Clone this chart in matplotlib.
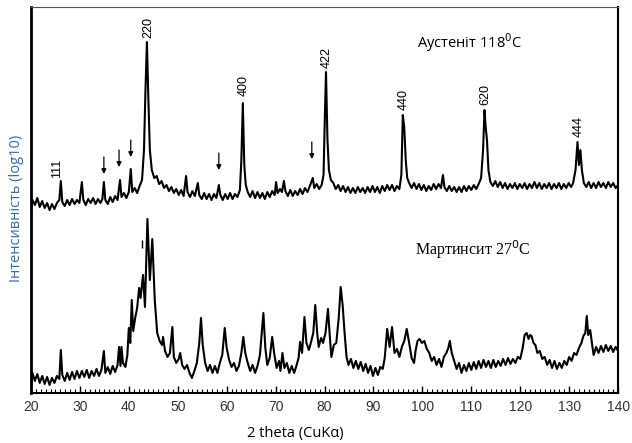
"""
XRD: аустеніт 118 C та мартенсит 27 C
Значення зчитано з рисунка (інтенсивність у відносних одиницях).
"""

import matplotlib
matplotlib.use('Agg')
import matplotlib.pyplot as plt

# ----------------------------------------------------------------
# Аустеніт 118 C (верхня крива)
# ----------------------------------------------------------------
aus_2theta = [
    20.0, 20.3, 20.8, 21.3, 21.8, 22.3, 22.8, 23.3, 23.8, 24.3, 24.8, 25.3, 25.8, 26.1, 26.4,
    26.9, 27.4, 27.9, 28.4, 28.9, 29.4, 29.9, 30.4, 30.7, 31.2, 31.7, 32.2, 32.7, 33.2, 33.7,
    34.2, 34.6, 34.9, 35.2, 35.7, 36.2, 36.7, 37.2, 37.7, 38.2, 38.5, 39.0, 39.5, 40.0, 40.4,
    40.7, 41.2, 41.7, 42.2, 42.7, 43.1, 43.4, 43.7, 44.0, 44.3, 44.7, 45.2, 45.7, 46.2, 46.7,
    47.2, 47.7, 48.2, 48.7, 49.2, 49.7, 50.2, 50.7, 51.2, 51.7, 52.0, 52.5, 53.0, 53.5, 54.1,
    54.4, 54.9, 55.4, 55.9, 56.4, 56.9, 57.4, 57.9, 58.4, 58.7, 59.2, 59.7, 60.2, 60.7, 61.2,
    61.7, 62.2, 62.7, 63.0, 63.3, 63.6, 63.9, 64.3, 64.8, 65.3, 65.8, 66.3, 66.8, 67.3, 67.8,
    68.3, 68.8, 69.3, 69.8, 70.1, 70.4, 70.9, 71.3, 71.7, 72.0, 72.5, 73.0, 73.5, 74.0, 74.5,
    75.0, 75.5, 76.0, 76.5, 77.0, 77.6, 77.9, 78.4, 78.9, 79.4, 79.8, 80.0, 80.3, 80.6, 80.9,
    81.3, 81.8, 82.3, 82.8, 83.3, 83.8, 84.3, 84.8, 85.3, 85.8, 86.3, 86.8, 87.3, 87.8, 88.3,
    88.8, 89.3, 89.8, 90.3, 90.8, 91.3, 91.8, 92.3, 92.8, 93.3, 93.8, 94.3, 94.8, 95.3, 95.7,
    96.0, 96.3, 96.6, 96.9, 97.3, 97.8, 98.3, 98.8, 99.3, 99.8, 100.3, 100.8, 101.3, 101.8, 102.3,
    102.8, 103.3, 103.8, 104.2, 104.5, 105.0, 105.5, 106.0, 106.5, 107.0, 107.5, 108.0, 108.5, 109.0,
    109.5, 110.0, 110.5, 111.0, 111.5, 112.0, 112.4, 112.7, 112.9, 113.2, 113.5, 113.9, 114.4, 114.9,
    115.4, 115.9, 116.4, 116.9, 117.4, 117.9, 118.4, 118.9, 119.4, 119.9, 120.4, 120.9, 121.4, 121.9,
    122.4, 122.9, 123.4, 123.9, 124.4, 124.9, 125.4, 125.9, 126.4, 126.9, 127.4, 127.9, 128.4, 128.9,
    129.4, 129.9, 130.4, 130.8, 131.3, 131.7, 132.0, 132.3, 132.6, 133.0, 133.5, 134.0, 134.5, 135.0,
    135.5, 136.0, 136.5, 137.0, 137.5, 138.0, 138.5, 139.0, 139.5, 140.0,
]
aus_int = [
    180, 193, 188, 195, 186, 192, 185, 190, 183, 189, 184, 190, 193, 212, 191,
    187, 193, 188, 194, 189, 193, 190, 211, 193, 188, 194, 190, 195, 189, 194,
    190, 194, 211, 193, 189, 196, 191, 197, 193, 213, 196, 200, 195, 201, 224,
    201, 205, 200, 207, 213, 243, 303, 351, 293, 243, 223, 215, 217, 209, 212,
    205, 208, 202, 206, 200, 204, 198, 203, 197, 217, 201, 196, 202, 197, 210,
    198, 194, 200, 194, 199, 193, 199, 195, 208, 198, 193, 199, 194, 200, 194,
    199, 196, 203, 233, 290, 228, 208, 201, 196, 202, 195, 201, 195, 200, 194,
    201, 196, 202, 198, 211, 200, 204, 201, 212, 202, 197, 203, 197, 202, 198,
    204, 199, 205, 201, 207, 215, 205, 209, 204, 208, 218, 263, 321, 253, 223,
    213, 210, 204, 208, 202, 207, 201, 206, 200, 205, 200, 206, 201, 205, 200,
    206, 201, 207, 201, 206, 200, 207, 202, 208, 203, 208, 202, 207, 204, 218,
    278, 265, 233, 215, 210, 205, 210, 204, 209, 203, 208, 202, 207, 203, 209,
    204, 209, 205, 218, 206, 202, 207, 202, 206, 201, 206, 201, 207, 202,
    207, 203, 208, 204, 209, 215, 243, 283, 268, 253, 223, 211, 207, 212,
    206, 211, 205, 210, 204, 209, 205, 210, 204, 209, 205, 210, 204, 209,
    205, 211, 205, 210, 204, 209, 205, 210, 204, 209, 205, 210, 204, 209,
    205, 210, 206, 210, 223, 251, 228, 243, 223, 210, 206, 211, 205, 210,
    205, 211, 206, 210, 205, 211, 206, 210, 205, 208,
]

# ----------------------------------------------------------------
# Мартенсит 27 C (нижня крива)
# ----------------------------------------------------------------
mar_2theta = [
    20.0, 20.3, 20.8, 21.3, 21.8, 22.3, 22.8, 23.3, 23.8, 24.3, 24.8, 25.3, 25.8, 26.1, 26.4,
    26.9, 27.4, 27.9, 28.4, 28.9, 29.4, 29.9, 30.4, 30.9, 31.4, 31.9, 32.4, 32.9, 33.4, 33.9,
    34.4, 34.9, 35.2, 35.7, 36.2, 36.7, 37.2, 37.7, 38.0, 38.3, 38.5, 38.8, 39.3, 39.7, 40.0,
    40.3, 40.6, 40.9, 41.3, 41.7, 42.1, 42.4, 42.9, 43.3, 43.8, 44.3, 44.8, 45.3, 45.8, 46.3,
    46.8, 47.0, 47.4, 47.9, 48.4, 48.9, 49.2, 49.7, 50.2, 50.5, 50.9, 51.4, 51.9, 52.4, 52.9,
    53.4, 53.9, 54.4, 54.75, 55.1, 55.6, 56.1, 56.6, 57.1, 57.6, 58.1, 58.6, 59.1, 59.6, 60.0,
    60.5, 61.0, 61.5, 62.0, 62.5, 63.0, 63.4, 63.8, 64.3, 64.8, 65.3, 65.8, 66.3, 66.8, 67.5,
    67.9, 68.3, 68.8, 69.3, 69.7, 70.2, 70.7, 71.0, 71.4, 71.8, 72.3, 72.8, 73.3, 73.8, 74.3,
    74.7, 75.0, 75.4, 75.9, 76.3, 76.8, 77.3, 77.7, 78.1, 78.5, 78.8, 79.3, 79.7, 80.2, 80.7,
    81.1, 81.4, 81.9, 82.4, 82.9, 83.3, 83.7, 84.1, 84.5, 84.9, 85.4, 85.9, 86.4, 86.9, 87.4,
    87.9, 88.4, 88.9, 89.4, 89.9, 90.4, 90.9, 91.4, 91.9, 92.3, 92.8, 93.3, 93.8, 94.3, 94.8,
    95.3, 95.8, 96.3, 96.8, 97.3, 97.8, 98.3, 98.6, 99.0, 99.4, 99.9, 100.4, 100.9, 101.4, 101.9,
    102.4, 102.9, 103.4, 103.9, 104.4, 104.9, 105.3, 105.6, 106.0, 106.5, 107.0, 107.5, 108.0, 108.5,
    109.0, 109.5, 110.0, 110.5, 111.0, 111.5, 112.0, 112.5, 113.0, 113.5, 114.0, 114.5, 115.0, 115.5,
    116.0, 116.5, 117.0, 117.5, 118.0, 118.5, 119.0, 119.5, 120.0, 120.5, 120.9, 121.3, 121.7, 122.0,
    122.3, 122.7, 123.1, 123.5, 124.0, 124.5, 125.0, 125.5, 126.0, 126.5, 127.0, 127.5, 128.0, 128.5,
    129.0, 129.5, 130.0, 130.5, 131.0, 131.5, 132.0, 132.5, 132.9, 133.3, 133.6, 133.9, 134.3, 134.7,
    135.0, 135.5, 136.0, 136.5, 137.0, 137.5, 138.0, 138.5, 139.0, 139.5, 140.0,
]
mar_int = [
    8, 20, 12, 19, 10, 17, 9, 16, 8, 15, 10, 17, 14, 43, 18,
    12, 20, 13, 21, 14, 22, 15, 22, 16, 23, 15, 22, 17, 24, 17,
    23, 42, 20, 26, 19, 27, 21, 28, 46, 27, 46, 30, 26, 38, 65,
    50, 93, 62, 75, 85, 105, 95, 118, 86, 174, 113, 154, 93, 60, 52,
    48, 56, 42, 36, 40, 66, 36, 30, 34, 40, 28, 24, 28, 20, 15,
    22, 30, 50, 75, 48, 30, 22, 28, 20, 27, 20, 30, 38, 65, 45,
    33, 26, 30, 22, 27, 40, 56, 40, 30, 22, 28, 20, 27, 38, 80,
    45, 28, 35, 56, 40, 25, 32, 22, 40, 25, 30, 20, 27, 20, 28,
    35, 51, 40, 76, 50, 43, 52, 60, 88, 60, 46, 55, 50, 60, 84,
    55, 36, 48, 50, 75, 106, 88, 60, 36, 28, 34, 25, 32, 24, 31,
    22, 29, 20, 27, 17, 25, 18, 26, 24, 35, 64, 46, 66, 40, 44,
    36, 46, 52, 64, 50, 35, 30, 42, 52, 54, 50, 52, 44, 40, 32,
    36, 28, 34, 26, 36, 40, 45, 52, 40, 32, 24, 30, 20, 28,
    22, 30, 23, 31, 24, 32, 25, 33, 26, 32, 25, 33, 26, 32,
    27, 34, 28, 35, 29, 34, 30, 36, 34, 45, 58, 60, 54, 58,
    57, 50, 48, 40, 42, 34, 36, 28, 33, 25, 32, 24, 30, 25,
    32, 28, 36, 32, 40, 38, 45, 50, 57, 60, 77, 58, 63, 48,
    38, 46, 40, 47, 41, 48, 42, 47, 41, 46, 42,
]

# підписи рефлексів аустеніту: (hkl, 2theta, висота підпису)
hkl_labels = ['111', '220', '400', '422', '440', '620', '444']
hkl_2theta = [25.3, 43.9, 63.5, 80.5, 96.2, 112.8, 132.0]
hkl_height = [225, 366, 308, 336, 294, 299, 267]

# стрілки над додатковими рефлексами
arrow_2theta = [34.9, 38.0, 40.4, 58.4, 77.4]
arrow_top = [236, 243, 253, 240, 251]

# ----------------------------------------------------------------
fig = plt.figure(figsize=(6.32, 4.43), dpi=100)
ax = fig.add_axes([0.049, 0.113, 0.929, 0.871])

ax.plot(aus_2theta, aus_int, color='black', lw=1.5)
ax.plot(mar_2theta, mar_int, color='black', lw=1.5)

# маленька риска біля основного піку мартенситу
ax.vlines(42.6, 145, 153, color='black', lw=1)

for lab, x, y in zip(hkl_labels, hkl_2theta, hkl_height):
    ax.text(x, y, lab, rotation=90, ha='center', va='center',
            fontsize=9, family='Liberation Sans')

for x, y in zip(arrow_2theta, arrow_top):
    ax.annotate('', xy=(x, y - 17), xytext=(x, y),
                arrowprops=dict(arrowstyle='-|>', color='black', lw=0.9,
                                mutation_scale=7, shrinkA=0, shrinkB=0))

ax.text(99, 350, 'Аустеніт 118$^0$C', fontsize=10.5, family='Open Sans',
        ha='left', va='center')
ax.text(98.5, 143, 'Мартинсит 27$^0$C', fontsize=11.5, family='Liberation Serif',
        ha='left', va='center')

ax.set_xlim(20, 140)
ax.set_ylim(0, 386)
ax.set_xticks(range(20, 141, 10))
ax.set_xticks(range(20, 141, 1), minor=True)
ax.set_yticks([])
ax.tick_params(axis='x', which='major', direction='in', length=5, width=1,
               labelsize=10, labelcolor='#333333', pad=5)
ax.tick_params(axis='x', which='minor', direction='in', length=3, width=0.8)
for lab in ax.get_xticklabels():
    lab.set_family('Liberation Sans')

ax.spines['left'].set_linewidth(2)
ax.spines['bottom'].set_linewidth(1.5)
ax.spines['right'].set_linewidth(1.5)
ax.spines['top'].set_linewidth(0.8)
ax.spines['top'].set_color('#555555')

fig.text(295 / 632, 1 - 433 / 443, '2 theta (CuKα)', ha='center', va='center',
         fontsize=10.5, family='Open Sans')
fig.text(17 / 632, 1 - 208 / 443, 'Інтенсивність (log10)', rotation=90,
         ha='center', va='center', fontsize=10.5, family='Open Sans',
         color='#2F6DB5')

plt.savefig('out.png', dpi=100)
plt.close()
